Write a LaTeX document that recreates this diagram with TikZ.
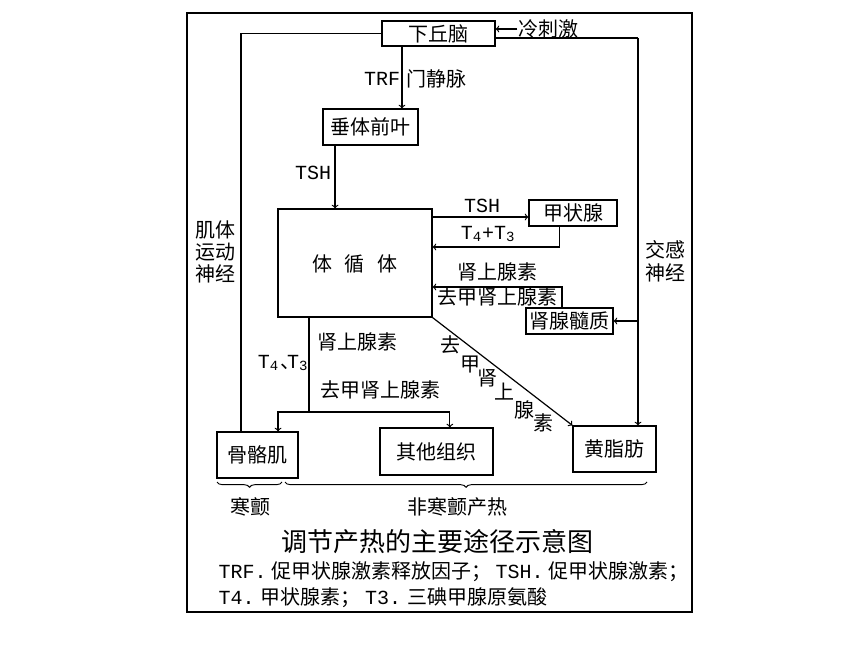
\documentclass[tikz,border=0pt]{standalone}
\usepackage{fontspec}
\setmainfont{Noto Sans CJK SC}
\newfontfamily\latn{Liberation Mono}
\usepackage{tikz}
\usetikzlibrary{decorations.pathreplacing}
\tikzstyle{organ}=[draw,%
                   rectangle,%
                   inner sep = 0pt,%
                   font      = \fontsize{15}{18}\selectfont]
\tikzstyle{txt}=[inner sep=0pt, font=\fontsize{15}{18}\selectfont]
\tikzstyle{curly}=[decorate, decoration={brace, mirror, amplitude=4pt}, line width=0.7pt]

\begin{document}
\begin{tikzpicture}[x=0.75pt, y=-0.75pt, line width=0.9pt]
            \useasboundingbox (0,0) rectangle (860,645);
            \draw[line width=1.4pt] (187,13) rectangle (692,612);
            \node[organ, minimum width=84.75pt, minimum height=18.75pt] (hypo) at (438.5,33.5) {下丘脑};
            \node[organ, minimum width=71.25pt, minimum height=27pt] (pit) at (370.5,127) {垂体前叶};
            \node[organ, minimum width=115.5pt, minimum height=81pt] (circ) at (355,263) {};
            \node[txt] (circtxt) at (355,264) {体\hspace{0.65em}循\hspace{0.65em}体};
            \node[organ, minimum width=66pt, minimum height=19.5pt] (thyr) at (573,213) {甲状腺};
            \node[organ, minimum width=65.25pt, minimum height=19.5pt] (medulla) at (569.5,321) {肾腺髓质};
            \node[organ, minimum width=60.75pt, minimum height=34.5pt] (muscle) at (257.5,455) {骨骼肌};
            \node[organ, minimum width=84.75pt, minimum height=35.25pt] (other) at (436.5,451.5) {其他组织};
            \node[organ, minimum width=62.25pt, minimum height=34.5pt] (fat) at (614.5,449) {黄脂肪};
            \node[txt] (cold) at (548,29) {冷刺激};
            \coordinate (nerve) at (638,38);
            \coordinate (split) at (309,412);
            \draw [->] (cold.west) -- (hypo.east |- cold.west);
            \draw (hypo.west) -| ([xshift=-12.4pt]muscle.north);
            \draw (hypo.east |- nerve) -- (nerve);
            \draw [->] (nerve) -- (nerve |- fat.north);
            \draw [->] (nerve |- medulla.east) -- (medulla.east);
            \draw [->] ([xshift=-27.4pt]hypo.south) -- ([xshift=-27.4pt]hypo.south |- pit.north);
            \draw [->] ([xshift=-26.6pt]pit.south) -- ([xshift=-26.6pt]pit.south |- circ.north);
            \draw [->] (circ.east |- thyr.west) ++(0,4) -- ([yshift=-3pt]thyr.west);
            \draw [->] ([xshift=-10pt]thyr.south) |- ([yshift=12pt]circ.east);
            \draw [->] ([xshift=-5.6pt]medulla.north) |- ([yshift=-18pt]circ.east);
            \draw ([xshift=-34.5pt]circ.south) -- (split);
            \draw [->] (split) -| ([xshift=15.4pt]muscle.north);
            \draw [->] (split) -| ([xshift=10pt]other.north);
            \draw [->] (circ.south east) -- (fat.north west);
            \node[txt] (trf) at (382,79) {\latn TRF};
            \node[txt] (portal) at (436,79) {门静脉};
            \node[txt] (tsha) at (313,173) {\latn TSH};
            \node[txt] (tshb) at (482,206) {\latn TSH};
            \node[txt] (thyhorm) at (488,234) {\latn T\textsubscript{4}+T\textsubscript{3}};
            \node[txt] (adrena) at (497,272) {肾上腺素};
            \node[txt] (noradra) at (497,297) {去甲肾上腺素};
            \node[txt] (adrenb) at (357,342) {肾上腺素};
            \node[txt] (thyhormb) at (283,363) {{\latn T\textsubscript{4}}\hspace{0.05em}、\hspace{-0.65em}{\latn T\textsubscript{3}}};
            \node[txt] (noradrb) at (380,390) {去甲肾上腺素};
            \node[txt] (dga) at (450,345) {去};
            \node[txt] (dgb) at (470,365) {甲};
            \node[txt] (dgc) at (487,378) {肾};
            \node[txt] (dgd) at (504,392) {上};
            \node[txt] (dge) at (524,410) {腺};
            \node[txt] (dgf) at (543,423) {素};
            \node[txt, align=center, font=\fontsize{15}{16.5}\selectfont] (motor) at (215,252) {肌体\\运动\\神经};
            \node[txt, align=center, font=\fontsize{15}{17}\selectfont] (symp) at (665,261) {交感\\神经};
            \draw[curly] (217,482) -- (282,482);
            \draw[curly] (285,482) -- (647,482);
            \node[txt] (shiver) at (250,507) {寒颤};
            \node[txt] (nonshiver) at (457,507) {非寒颤产热};
            \node[txt, font=\fontsize{19.5}{22}\selectfont] (title) at (437,542) {调节产热的主要途径示意图};
            \node[txt, anchor=west, font=\fontsize{15}{17}\selectfont] (legenda) at (218,572) {{\latn TRF.} 促甲状腺激素释放因子； {\latn TSH.} 促甲状腺激素；};
            \node[txt, anchor=west, font=\fontsize{15}{17}\selectfont] (legendb) at (218,598) {{\latn T4.} 甲状腺素； {\latn T3.} 三碘甲腺原氨酸};
\end{tikzpicture}
\end{document}
